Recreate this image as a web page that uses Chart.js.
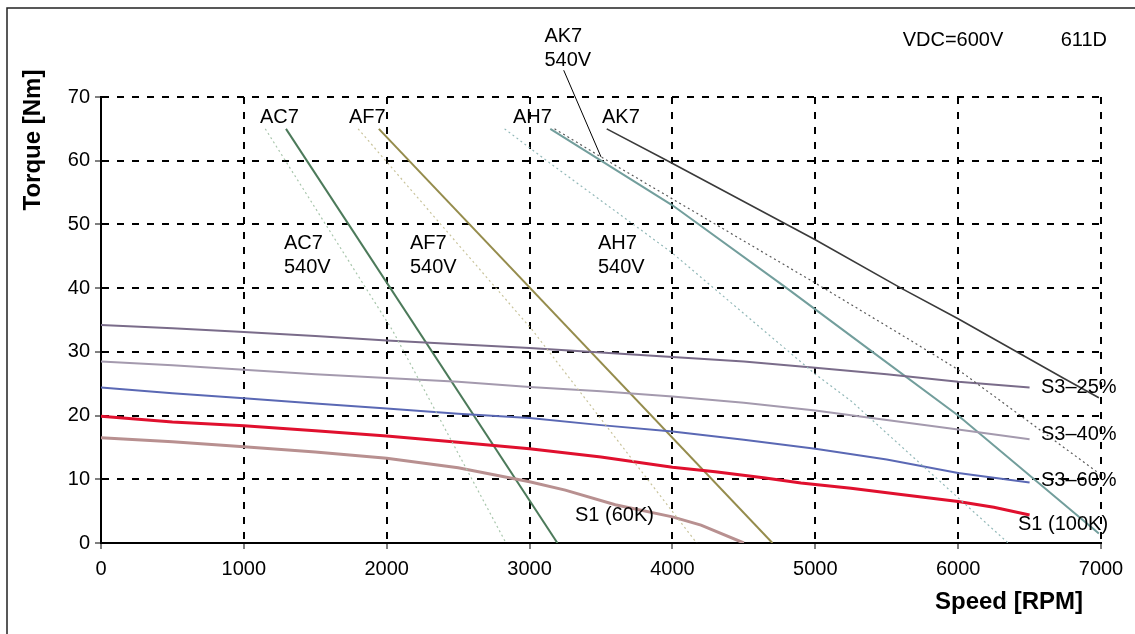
<!DOCTYPE html>
<html>
<head>
<meta charset="utf-8">
<title>611D torque / speed</title>
<script src="https://cdn.jsdelivr.net/npm/chart.js@4.4.1/dist/chart.umd.min.js"></script>
<style>
  html, body { margin: 0; padding: 0; background: #fff; }
  #wrap { width: 1135px; height: 634px; }
</style>
</head>
<body>
<div id="wrap"><canvas id="torqueChart" width="1135" height="634"></canvas></div>
<script>
// 611D motor torque vs speed, VDC=600V

const xTicks = [0, 1000, 2000, 3000, 4000, 5000, 6000, 7000];
const yTicks = [0, 10, 20, 30, 40, 50, 60, 70];

// S1 / S3 duty curves
const dutySpeed = [0, 500, 1000, 1500, 2000, 2500, 3000, 3500, 4000, 4500, 5000, 5500, 6000, 6500];
const s3_25 = [34.2, 33.7, 33.1, 32.5, 31.8, 31.2, 30.6, 29.9, 29.2, 28.5, 27.5, 26.5, 25.3, 24.4];
const s3_40 = [28.5, 27.9, 27.2, 26.5, 25.9, 25.3, 24.5, 23.8, 23.0, 22.0, 20.8, 19.3, 17.8, 16.3];
const s3_60 = [24.4, 23.5, 22.7, 21.9, 21.1, 20.3, 19.6, 18.5, 17.5, 16.2, 14.8, 13.1, 11.0, 9.5];

const s1_100kSpeed = [0, 500, 1000, 1500, 2000, 2500, 3000, 3500, 4000, 4300, 4650, 4900, 5250, 5600, 6000, 6250, 6500];
const s1_100k = [19.9, 19.0, 18.4, 17.6, 16.8, 15.8, 14.8, 13.5, 11.9, 11.2, 10.2, 9.4, 8.6, 7.6, 6.5, 5.6, 4.4];

const s1_60kSpeed = [0, 500, 1000, 1500, 2000, 2500, 3000, 3250, 3600, 4000, 4200, 4500];
const s1_60k = [16.5, 15.9, 15.1, 14.3, 13.3, 11.8, 9.6, 8.3, 6.0, 4.1, 2.8, 0];

// voltage limit lines (600V solid, 540V dotted)
const ac7Speed = [1295, 3195];
const ac7Torque = [65, 0];
const ac7_540Speed = [1150, 2040, 2835];
const ac7_540Torque = [65, 33.4, 0];

const af7Speed = [1945, 4700];
const af7Torque = [65, 0];
const af7_540Speed = [1800, 3020, 4170];
const af7_540Torque = [65, 33.4, 0];

const ah7Speed = [3145, 3500, 4000, 4800, 5400, 6000, 6985];
const ah7Torque = [65, 60, 53, 40, 30, 20, 1.5];
const ah7_540Speed = [2825, 3150, 4000, 5000, 5250, 6350];
const ah7_540Torque = [65, 59.5, 45.5, 26.5, 22.3, 0];

const ak7Speed = [3540, 3965, 5000, 5600, 6000, 6735, 6985];
const ak7Torque = [65, 60, 47.6, 40, 35.2, 25.9, 22.8];
const ak7_540Speed = [3175, 3500, 4000, 5000, 5660, 6000, 6970];
const ak7_540Torque = [65, 60.6, 54, 40.8, 31.9, 27.2, 11.2];

// leader from the "AK7 540V" label down to its curve
const leaderSpeed = [3239, 3500];
const leaderTorque = [74.2, 60.6];

// text notes, placed in data units (left edge, baseline)
const noteText = ['AC7', 'AF7', 'AH7', 'AK7',
  'AC7', '540V', 'AF7', '540V', 'AH7', '540V', 'AK7', '540V',
  'VDC=600V', '611D',
  'S3\u201325%', 'S3\u201340%', 'S3\u201360%', 'S1 (100K)', 'S1 (60K)'];
const noteX = [1113, 1736, 2884, 3507,
  1281, 1281, 2163, 2163, 3479, 3479, 3104, 3104,
  5612, 6718,
  6580, 6580, 6580, 6419, 3318];
const noteY = [65.9, 65.9, 65.9, 65.9,
  46.1, 42.4, 46.1, 42.4, 46.1, 42.4, 78.7, 74.8,
  78.0, 78.0,
  23.5, 16.2, 8.9, 2.0, 3.4];


function pts(xs, ys) {
    return xs.map((x, i) => ({ x: x, y: ys[i] }));
}

function curve(xs, ys, color, width, dash) {
    return {
        data: pts(xs, ys),
        borderColor: color,
        borderWidth: width,
        borderDash: dash || [],
        showLine: true,
        pointRadius: 0,
        fill: false,
        tension: 0
    };
}

const leader = curve(leaderSpeed, leaderTorque, '#000', 1);
leader.clip = false;

const datasets = [
    curve(ac7_540Speed, ac7_540Torque, '#a8c6ac', 1.2, [2, 3]),
    curve(af7_540Speed, af7_540Torque, '#c9c49c', 1.2, [2, 3]),
    curve(ah7_540Speed, ah7_540Torque, '#92b8b8', 1.2, [2, 3]),
    curve(ak7_540Speed, ak7_540Torque, '#5a5a5a', 1.2, [2, 3]),
    curve(dutySpeed, s3_25, '#7a6c8a', 2),
    curve(dutySpeed, s3_40, '#a49aae', 2),
    curve(dutySpeed, s3_60, '#5a68b4', 2),
    curve(s1_100kSpeed, s1_100k, '#e0102e', 3),
    curve(s1_60kSpeed, s1_60k, '#b89090', 3),
    curve(ac7Speed, ac7Torque, '#4c7a5a', 2),
    curve(af7Speed, af7Torque, '#958c4c', 2),
    curve(ah7Speed, ah7Torque, '#729e9c', 2),
    curve(ak7Speed, ak7Torque, '#3a3a3a', 1.6),
    leader
];

// frame, notes and axis titles
const sheetText = {
    id: 'sheetText',
    beforeDraw(chart) {
        const ctx = chart.ctx;
        ctx.save();
        ctx.fillStyle = '#fff';
        ctx.fillRect(0, 0, chart.width, chart.height);
        ctx.strokeStyle = '#222';
        ctx.lineWidth = 1.5;
        ctx.beginPath();
        ctx.moveTo(7, chart.height);
        ctx.lineTo(7, 8);
        ctx.lineTo(chart.width, 8);
        ctx.stroke();
        ctx.restore();
    },
    afterDatasetsDraw(chart) {
        const ctx = chart.ctx;
        const xs = chart.scales.x;
        const ys = chart.scales.y;
        ctx.save();
        ctx.fillStyle = '#000';
        ctx.font = '20px "Liberation Sans", Arial, sans-serif';
        ctx.textAlign = 'left';
        ctx.textBaseline = 'alphabetic';
        noteText.forEach((t, i) => {
            ctx.fillText(t, xs.getPixelForValue(noteX[i]), ys.getPixelForValue(noteY[i]));
        });

        ctx.font = 'bold 24px "Liberation Sans", Arial, sans-serif';
        ctx.textAlign = 'right';
        ctx.fillText('Speed [RPM]', 1083, 609);

        ctx.translate(40, 140);
        ctx.rotate(-Math.PI / 2);
        ctx.textAlign = 'center';
        ctx.fillText('Torque [Nm]', 0, 0);
        ctx.restore();
    }
};

const gridOpts = {
    color: '#000',
    lineWidth: 2,
    drawTicks: true,
    tickLength: 6,
    tickColor: '#000',
    tickWidth: 1,
    tickBorderDash: []
};

new Chart(document.getElementById('torqueChart'), {
    type: 'scatter',
    data: { datasets: datasets },
    options: {
        responsive: false,
        animation: false,
        layout: { padding: { left: 0, top: 97, right: 34, bottom: 0 } },
        plugins: {
            legend: { display: false },
            tooltip: { enabled: false }
        },
        scales: {
            x: {
                type: 'linear',
                min: 0,
                max: 7000,
                afterBuildTicks: (s) => { s.ticks = xTicks.map(v => ({ value: v })); },
                afterFit: (s) => { s.height = 91; },
                grid: gridOpts,
                border: { display: true, color: '#000', width: 2, dash: [7, 8] },
                ticks: {
                    color: '#000',
                    font: { size: 20, family: '"Liberation Sans", Arial, sans-serif' },
                    padding: 8,
                    maxRotation: 0,
                    callback: (v) => String(v)
                }
            },
            y: {
                type: 'linear',
                min: 0,
                max: 70,
                afterBuildTicks: (s) => { s.ticks = yTicks.map(v => ({ value: v })); },
                afterFit: (s) => { s.width = 101; },
                grid: gridOpts,
                border: { display: true, color: '#000', width: 2, dash: [7, 8] },
                ticks: {
                    color: '#000',
                    font: { size: 20, family: '"Liberation Sans", Arial, sans-serif' },
                    padding: 5,
                    callback: (v) => String(v)
                }
            }
        }
    },
    plugins: [sheetText]
});
</script>
</body>
</html>
